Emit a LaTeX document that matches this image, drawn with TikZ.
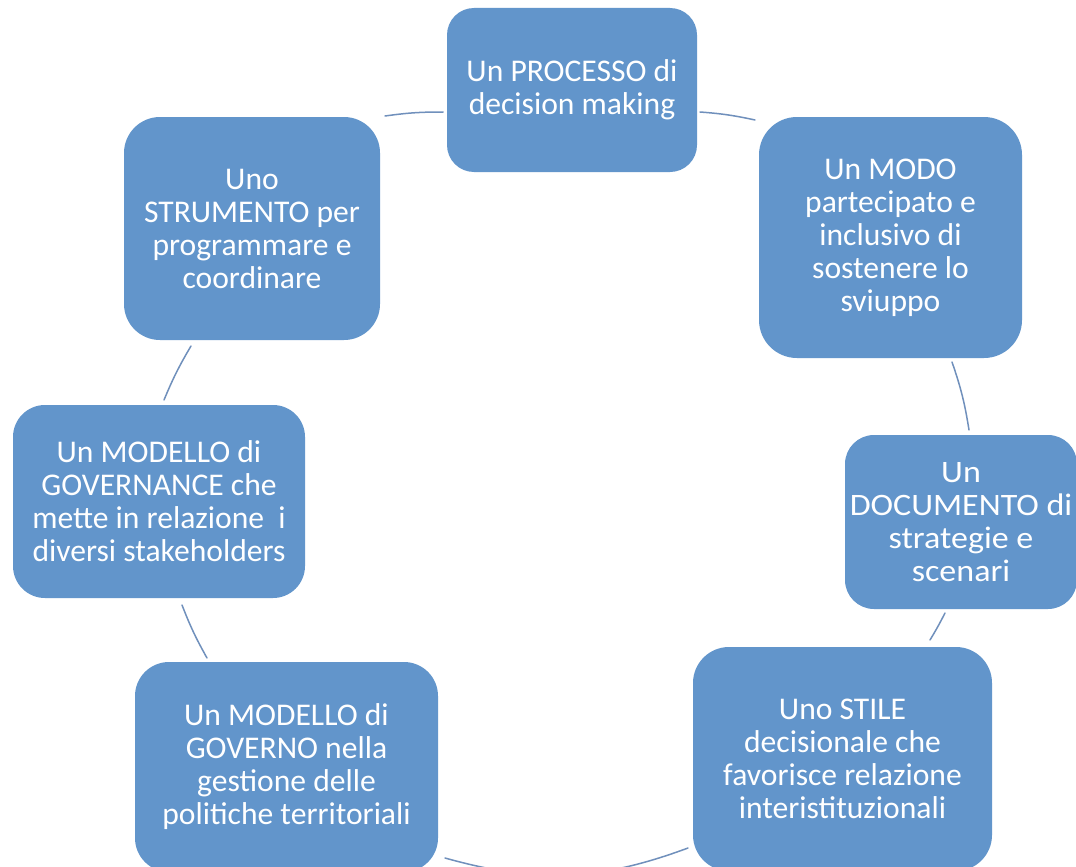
\documentclass[tikz,border=0pt]{standalone}
\usepackage{fontspec}
\setmainfont{Carlito}
\newfontfamily\docfont{Carlito}[FakeStretch=1.09]
\definecolor{boxblue}{RGB}{98,149,203}
\definecolor{linkblue}{RGB}{112,144,188}
\begin{document}
\begin{tikzpicture}[x=1pt,y=-1pt,
  card/.style={fill=boxblue, draw=none, text=white, align=center, inner sep=0pt,
    font=\fontsize{31.6pt}{33pt}\selectfont},
  link/.style={draw=linkblue, line width=1.5pt, line cap=round}]
\useasboundingbox (0,0) rectangle (1076,867);
\clip (0,0) rectangle (1076,867);
\fill[white] (0,0) rectangle (1076,867);

\node[card, minimum width=250pt, minimum height=164pt, rounded corners=27pt] (proc) at (572,90)
  {Un PROCESSO di\\decision making};
\node[card, minimum width=263pt, minimum height=241pt, rounded corners=38pt] (modo) at (890.5,237.5)
  {Un MODO\\partecipato e\\inclusivo di\\sostenere lo\\sviuppo};
\node[card, minimum width=232pt, minimum height=174pt, rounded corners=29pt,
      font=\docfont\fontsize{31.2pt}{33pt}\selectfont] (doc) at (961,522)
  {Un\\DOCUMENTO di\\strategie e\\scenari};
\node[card, minimum width=299pt, minimum height=224pt, rounded corners=36pt] (stile) at (842.5,759)
  {Uno STILE\\decisionale che\\favorisce relazione\\interistituzionali};
\node[card, minimum width=303pt, minimum height=210pt, rounded corners=34pt] (governo) at (286.5,767)
  {Un MODELLO di\\GOVERNO nella\\gestione delle\\politiche territoriali};
\node[card, minimum width=292pt, minimum height=193pt, rounded corners=32pt] (gnance) at (159,501.5)
  {Un MODELLO di\\GOVERNANCE che\\mette in relazione\ \ i\\diversi stakeholders};
\node[card, minimum width=256pt, minimum height=223pt, rounded corners=36pt] (strum) at (252,228.5)
  {Uno\\STRUMENTO per\\programmare e\\coordinare};

% connector end points (gaps between the ring arcs and the boxes)
\coordinate (a1) at (443,112);  \coordinate (a2) at (385,116);
\coordinate (b1) at (191,346);  \coordinate (b2) at (164,400);
\coordinate (c1) at (182,605);  \coordinate (c2) at (207,658);
\coordinate (d1) at (445,858);  \coordinate (d2) at (688,848);
\coordinate (e1) at (930,640);  \coordinate (e2) at (945,613);
\coordinate (f1) at (969,430);  \coordinate (f2) at (952,362);
\coordinate (g1) at (755,120);  \coordinate (g2) at (700,112);

\draw[link] (a1) to[bend right=4] (a2);
\draw[link] (b1) to[bend right=4] (b2);
\draw[link] (c1) to[bend right=4] (c2);
\draw[link] (d1) to[bend right=18] (d2);
\draw[link] (e1) to[bend right=2] (e2);
\draw[link] (f1) to[bend right=5] (f2);
\draw[link] (g1) to[bend right=4] (g2);
\end{tikzpicture}
\end{document}
